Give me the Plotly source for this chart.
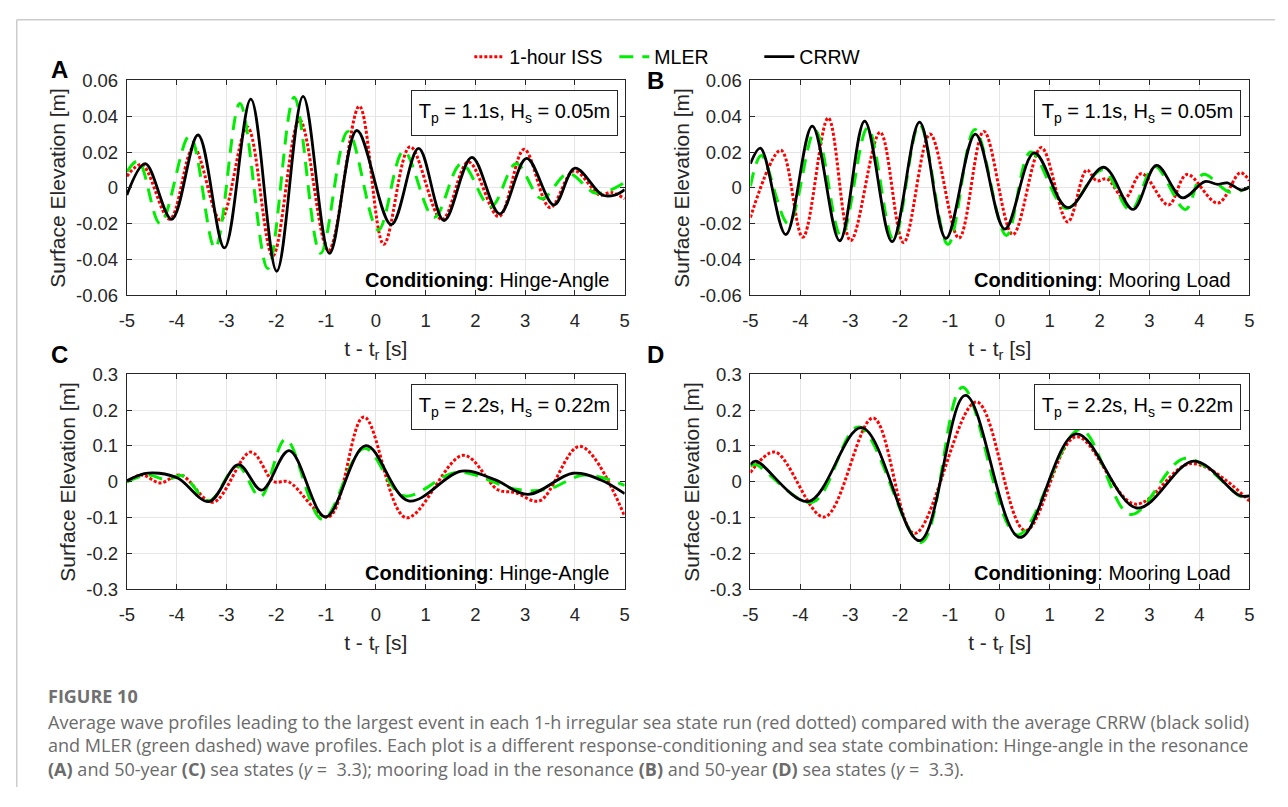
import plotly.graph_objects as go

# ---------------- data ----------------
# Panel A : Tp = 1.1s, Hs = 0.05m, conditioning Hinge-Angle
tA_iss = [-5.0, -4.70, -4.14, -3.66, -3.12, -2.58, -2.07, -1.53, -0.95, -0.33, 0.16, 0.69, 1.33, 1.86, 2.47, 2.98, 3.50, 3.98, 4.50, 4.72, 5.0]
yA_iss = [0.0065, 0.0130, -0.0175, 0.0225, -0.0180, 0.0340, -0.0380, 0.0380, -0.0350, 0.0455, -0.0315, 0.0230, -0.0178, 0.0145, -0.0160, 0.0215, -0.0110, 0.0095, -0.0040, -0.0025, -0.0060]
tA_mler = [-5.0, -4.77, -4.33, -3.74, -3.23, -2.73, -2.17, -1.64, -1.11, -0.56, 0.05, 0.56, 1.17, 1.72, 2.31, 2.82, 3.33, 3.86, 4.43, 5.0]
yA_mler = [0.0090, 0.0150, -0.0200, 0.0290, -0.0335, 0.0470, -0.0450, 0.0505, -0.0365, 0.0315, -0.0235, 0.0205, -0.0165, 0.0135, -0.0105, 0.0135, -0.0060, 0.0080, -0.0030, 0.0030]
tA_crrw = [-5.0, -4.63, -4.10, -3.57, -3.04, -2.51, -1.99, -1.46, -0.93, -0.38, 0.31, 0.86, 1.37, 1.93, 2.49, 3.03, 3.58, 4.00, 4.55, 4.80, 5.0]
yA_crrw = [-0.0040, 0.0135, -0.0175, 0.0295, -0.0335, 0.0495, -0.0465, 0.0510, -0.0365, 0.0320, -0.0205, 0.0220, -0.0182, 0.0170, -0.0145, 0.0165, -0.0095, 0.0110, -0.0040, -0.0040, -0.0010]

# Panel B : Tp = 1.1s, Hs = 0.05m, conditioning Mooring Load
tB_iss = [-5.0, -4.39, -3.95, -3.44, -2.99, -2.40, -1.93, -1.40, -0.82, -0.32, 0.26, 0.83, 1.36, 1.74, 1.94, 2.15, 2.50, 2.84, 3.38, 3.75, 4.37, 4.82, 5.0]
yB_iss = [-0.0165, 0.0210, -0.0275, 0.0390, -0.0295, 0.0310, -0.0305, 0.0300, -0.0280, 0.0315, -0.0260, 0.0225, -0.0190, 0.0100, 0.0040, 0.0050, -0.0060, 0.0080, -0.0095, 0.0075, -0.0085, 0.0085, 0.0040]
tB_mler = [-5.0, -4.78, -4.24, -3.70, -3.18, -2.65, -2.13, -1.61, -1.04, -0.50, 0.13, 0.62, 1.33, 2.05, 2.62, 3.10, 3.72, 4.07, 4.62, 5.0]
yB_mler = [0.0010, 0.0180, -0.0200, 0.0320, -0.0270, 0.0335, -0.0290, 0.0355, -0.0315, 0.0325, -0.0265, 0.0200, -0.0115, 0.0100, -0.0125, 0.0120, -0.0120, 0.0075, -0.0025, 0.0005]
tB_crrw = [-5.0, -4.80, -4.29, -3.76, -3.21, -2.71, -2.16, -1.61, -1.08, -0.49, 0.10, 0.69, 1.36, 2.08, 2.67, 3.14, 3.66, 4.11, 4.37, 4.56, 4.84, 5.0]
yB_crrw = [0.0135, 0.0222, -0.0260, 0.0345, -0.0295, 0.0372, -0.0300, 0.0367, -0.0282, 0.0300, -0.0230, 0.0195, -0.0110, 0.0115, -0.0120, 0.0125, -0.0055, 0.0035, 0.0020, 0.0028, -0.0012, 0.0005]

# Panel C : Tp = 2.2s, Hs = 0.22m, conditioning Hinge-Angle
tC_iss = [-5.0, -4.70, -4.33, -3.92, -3.27, -2.51, -2.05, -1.75, -0.95, -0.24, 0.61, 1.76, 2.45, 2.80, 3.29, 4.10, 5.0]
yC_iss = [0.000, 0.019, -0.003, 0.019, -0.057, 0.083, 0.001, 0.000, -0.098, 0.181, -0.100, 0.074, -0.022, -0.030, -0.053, 0.099, -0.096]
tC_mler = [-5.0, -4.58, -4.21, -3.88, -3.35, -2.78, -2.32, -1.81, -1.07, -0.23, 0.56, 1.65, 2.79, 3.45, 4.18, 5.0]
yC_mler = [0.000, 0.019, 0.006, 0.017, -0.053, 0.045, -0.042, 0.119, -0.105, 0.094, -0.039, 0.027, -0.020, -0.021, 0.019, -0.010]
tC_crrw = [-5.0, -4.65, -4.35, -3.97, -3.35, -2.76, -2.29, -1.74, -1.01, -0.20, 0.66, 1.72, 2.39, 3.06, 3.96, 4.51, 5.0]
yC_crrw = [0.003, 0.023, 0.024, 0.010, -0.055, 0.048, -0.023, 0.087, -0.098, 0.101, -0.053, 0.030, 0.006, -0.035, 0.024, 0.006, -0.033]

# Panel D : Tp = 2.2s, Hs = 0.22m, conditioning Mooring Load
tD_iss = [-5.0, -4.51, -3.52, -2.54, -1.71, -0.47, 0.51, 1.53, 2.71, 3.84, 5.0]
yD_iss = [0.026, 0.083, -0.098, 0.178, -0.144, 0.223, -0.136, 0.126, -0.062, 0.051, -0.053]
tD_mler = [-5.0, -4.90, -3.76, -2.83, -1.58, -0.75, 0.35, 1.61, 2.62, 3.72, 4.85, 5.0]
yD_mler = [0.043, 0.048, -0.057, 0.153, -0.169, 0.264, -0.148, 0.146, -0.091, 0.066, -0.042, -0.042]
tD_crrw = [-5.0, -4.89, -3.84, -2.77, -1.61, -0.69, 0.40, 1.53, 2.75, 3.89, 4.80, 5.0]
yD_crrw = [0.048, 0.058, -0.055, 0.151, -0.164, 0.241, -0.155, 0.134, -0.073, 0.058, -0.038, -0.039]

series_names = ["1-hour ISS", "MLER", "CRRW"]
panel_letters = ["A", "B", "C", "D"]
sea_state_labels = ["T<sub>p</sub> = 1.1s, H<sub>s</sub> = 0.05m", "T<sub>p</sub> = 1.1s, H<sub>s</sub> = 0.05m",
                    "T<sub>p</sub> = 2.2s, H<sub>s</sub> = 0.22m", "T<sub>p</sub> = 2.2s, H<sub>s</sub> = 0.22m"]
conditioning_labels = ["Hinge-Angle", "Mooring Load", "Hinge-Angle", "Mooring Load"]
x_ticks = [-5, -4, -3, -2, -1, 0, 1, 2, 3, 4, 5]
x_ticktext = ["-5", "-4", "-3", "-2", "-1", "0", "1", "2", "3", "4", "5"]
y_ticks_small = [-0.06, -0.04, -0.02, 0, 0.02, 0.04, 0.06]
y_ticktext_small = ["-0.06", "-0.04", "-0.02", "0", "0.02", "0.04", "0.06"]
y_ticks_large = [-0.3, -0.2, -0.1, 0, 0.1, 0.2, 0.3]
y_ticktext_large = ["-0.3", "-0.2", "-0.1", "0", "0.1", "0.2", "0.3"]
caption_title = "FIGURE 10"
caption_lines = [
    "Average wave profiles leading to the largest event in each 1-h irregular sea state run (red dotted) compared with the average CRRW (black solid)",
    "and MLER (green dashed) wave profiles. Each plot is a different response-conditioning and sea state combination: Hinge-angle in the resonance",
    "<b>(A)</b> and 50-year <b>(C)</b> sea states (<i>γ</i> =  3.3); mooring load in the resonance <b>(B)</b> and 50-year <b>(D)</b> sea states (<i>γ</i> =  3.3).",
]

# ---------------- layout helpers ----------------
# The page body keeps its default 8px margin, so the figure is sized to fit the
# 1288x807 window inside it and all positions below are given in window pixels.
PAGE_MARGIN = 8
W, H = 1272, 789
FONT = "Liberation Sans, Arial, Helvetica, sans-serif"
AX_COL = "#262626"

def px_x(p):
    return (p - PAGE_MARGIN) / W

def px_y(p):
    return 1 - (p - PAGE_MARGIN) / H

# window-pixel boxes of the four axes: (left, right, top, bottom)
boxes = [(120, 623, 71, 292), (750, 1254, 71, 292), (120, 623, 373, 594), (750, 1254, 373, 594)]

panels = [
    (tA_iss, yA_iss, tA_mler, yA_mler, tA_crrw, yA_crrw),
    (tB_iss, yB_iss, tB_mler, yB_mler, tB_crrw, yB_crrw),
    (tC_iss, yC_iss, tC_mler, yC_mler, tC_crrw, yC_crrw),
    (tD_iss, yD_iss, tD_mler, yD_mler, tD_crrw, yD_crrw),
]

styles = [
    dict(color="#ff0000", width=3, dash="3px,2px"),
    dict(color="#00ee00", width=3, dash="14px,9px"),
    dict(color="#000000", width=2.8, dash="solid"),
]

fig = go.Figure()
for i, pdata in enumerate(panels):
    xa = "x" if i == 0 else f"x{i+1}"
    ya = "y" if i == 0 else f"y{i+1}"
    for k in range(3):
        fig.add_trace(go.Scatter(
            x=pdata[2 * k], y=pdata[2 * k + 1], mode="lines",
            line=dict(shape="spline", smoothing=1.0, **styles[k]),
            name=series_names[k], legendgroup=series_names[k],
            showlegend=(i == 0), xaxis=xa, yaxis=ya, hoverinfo="skip",
        ))

layout = dict(
    width=W, height=H, margin=dict(l=0, r=0, t=0, b=0),
    paper_bgcolor="white", plot_bgcolor="white",
    font=dict(family=FONT, size=18, color=AX_COL),
    showlegend=True,
    legend=dict(orientation="h", x=px_x(466), xanchor="left", y=px_y(47), yanchor="middle",
                font=dict(size=19.5, color="#000000"), bgcolor="rgba(0,0,0,0)",
                itemwidth=30, tracegroupgap=0, entrywidth=100, entrywidthmode="pixels"),
)

annotations = []
shapes = []
for i, (l, r, t, b) in enumerate(boxes):
    suf = "" if i == 0 else str(i + 1)
    small = i < 2
    layout[f"xaxis{suf}"] = dict(
        domain=[px_x(l), px_x(r)], anchor=f"y{suf}", range=[-5, 5],
        tickvals=x_ticks, ticktext=x_ticktext, ticks="inside", ticklen=5, tickcolor=AX_COL,
        showline=True, linecolor=AX_COL, linewidth=1, mirror="ticks",
        showgrid=True, gridcolor="#e5e5e5", gridwidth=1, zeroline=False,
        tickfont=dict(size=18.5, color=AX_COL), ticklabelstandoff=8,
        title=dict(text="t - t<sub>r</sub> [s]", font=dict(size=21, color=AX_COL), standoff=11),
    )
    layout[f"yaxis{suf}"] = dict(
        domain=[px_y(b), px_y(t)], anchor=f"x{suf}",
        range=[-0.06, 0.06] if small else [-0.3, 0.3],
        tickvals=y_ticks_small if small else y_ticks_large,
        ticktext=y_ticktext_small if small else y_ticktext_large,
        ticks="inside", ticklen=5, tickcolor=AX_COL,
        showline=True, linecolor=AX_COL, linewidth=1, mirror="ticks",
        showgrid=True, gridcolor="#e5e5e5", gridwidth=1, zeroline=False,
        tickfont=dict(size=18.5, color=AX_COL), ticklabelstandoff=4,
        title=dict(text="Surface Elevation [m]", font=dict(size=21, color=AX_COL), standoff=4),
    )
    xd = f"x{suf} domain"
    yd = f"y{suf} domain"
    # sea-state box
    annotations.append(dict(
        xref=xd, yref=yd, x=0.778 if i % 2 == 0 else 0.776, y=0.848, xanchor="center", yanchor="middle",
        text=sea_state_labels[i], showarrow=False, font=dict(size=20, color="#000000"),
        bordercolor=AX_COL, borderwidth=1, borderpad=4, bgcolor="white", width=197, height=36,
    ))
    # conditioning label
    annotations.append(dict(
        xref=xd, yref=yd, x=0.972 if i % 2 == 0 else 0.968, y=0.074, xanchor="right", yanchor="middle",
        text="<b>Conditioning</b>: " + conditioning_labels[i], showarrow=False,
        font=dict(size=20, color="#000000"),
    ))
    # panel letter
    lx = 52 if i % 2 == 0 else 654
    ly = 59 if i < 2 else 352
    if i == 1:
        ly = 71
    annotations.append(dict(
        xref="paper", yref="paper", x=px_x(lx), y=px_y(ly), xanchor="center", yanchor="middle",
        text=f"<b>{panel_letters[i]}</b>", showarrow=False, font=dict(size=24, color="#000000"),
        height=18, valign="middle", borderpad=0,
    ))

# caption
CAP_FONT = "Open Sans, Noto Sans, sans-serif"
annotations.append(dict(
    xref="paper", yref="paper", x=px_x(38), y=px_y(704), xanchor="left", yanchor="middle",
    text=f"<b>{caption_title}</b>", showarrow=False, font=dict(family=CAP_FONT, size=18, color="#707070"),
))
annotations.append(dict(
    xref="paper", yref="paper", x=px_x(38), y=px_y(716), xanchor="left", yanchor="top",
    text="<br>".join(caption_lines), align="left", showarrow=False,
    font=dict(family=CAP_FONT, size=18.05, color="#6b6b6b"),
))

# outer frame (top and left edges of the figure card)
shapes.append(dict(type="line", xref="paper", yref="paper", x0=px_x(8.75), x1=1.0, y0=px_y(8.75), y1=px_y(8.75),
                   line=dict(color="#cccccc", width=1.5)))
shapes.append(dict(type="line", xref="paper", yref="paper", x0=px_x(8.75), x1=px_x(8.75), y0=px_y(8.75), y1=0.0,
                   line=dict(color="#cccccc", width=1.5)))

layout["annotations"] = annotations
layout["shapes"] = shapes
fig.update_layout(**layout)

fig.write_html("out.html", config={"displayModeBar": False})
